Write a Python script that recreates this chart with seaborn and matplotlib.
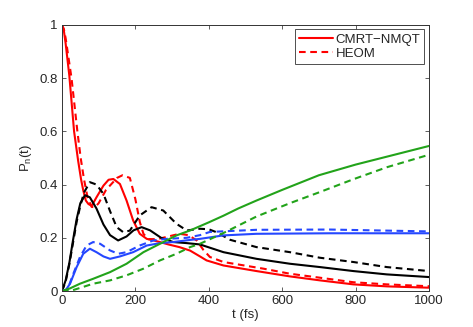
import matplotlib
matplotlib.use("Agg")
import matplotlib.pyplot as plt
import seaborn as sns
import pandas as pd

# values (t in fs, population)
red_t = [0, 5, 10, 20, 33, 44, 52, 58, 65, 72, 81, 94, 113, 127, 140, 158, 176, 194, 212, 231,
         250, 267, 290, 320, 349, 376, 394, 440, 530, 621, 703, 794, 885, 1000]
red_cmrt = [1.0, 0.98, 0.93, 0.81, 0.6, 0.49, 0.42, 0.378, 0.34, 0.327, 0.32, 0.352, 0.396, 0.418,
            0.421, 0.402, 0.34, 0.265, 0.215, 0.196, 0.19, 0.184, 0.175, 0.165, 0.152, 0.13, 0.115,
            0.096, 0.075, 0.055, 0.04, 0.025, 0.0175, 0.0125]

red_t2 = [0, 5, 10, 26, 42, 51, 60, 70, 81, 90, 100, 120, 150, 165, 185, 200, 212, 222, 235, 260,
          290, 320, 345, 367, 385, 403, 440, 549, 621, 703, 794, 885, 1000]
red_heom = [1.0, 0.985, 0.95, 0.8, 0.6, 0.5, 0.42, 0.35, 0.316, 0.315, 0.33, 0.38, 0.425, 0.435,
            0.425, 0.345, 0.26, 0.215, 0.195, 0.195, 0.205, 0.215, 0.21, 0.19, 0.155, 0.128, 0.109,
            0.084, 0.065, 0.05, 0.033, 0.025, 0.018]

blk_t = [0, 10, 20, 30, 40, 50, 63, 76, 94, 113, 131, 153, 176, 195, 217, 240, 270, 303, 340, 376,
         440, 530, 621, 703, 794, 885, 1000]
blk_cmrt = [0, 0.04, 0.105, 0.19, 0.27, 0.33, 0.36, 0.352, 0.31, 0.25, 0.21, 0.19, 0.205, 0.228,
            0.24, 0.228, 0.2, 0.184, 0.18, 0.175, 0.146, 0.121, 0.1025, 0.09, 0.075, 0.0625, 0.0525]

blk_t2 = [0, 10, 20, 30, 40, 50, 60, 76, 94, 113, 131, 149, 167, 185, 212, 244, 276, 312, 340, 376,
          400, 421, 458, 530, 621, 703, 794, 885, 1000]
blk_heom = [0, 0.035, 0.1, 0.18, 0.26, 0.32, 0.37, 0.409, 0.4, 0.365, 0.3, 0.24, 0.221, 0.227,
            0.284, 0.315, 0.3025, 0.2525, 0.2275, 0.234, 0.232, 0.221, 0.1925, 0.165, 0.146, 0.125,
            0.109, 0.09, 0.075]

blu_t = [0, 10, 22, 40, 58, 76, 94, 113, 131, 158, 194, 231, 267, 303, 349, 376, 440, 530, 730, 1000]
blu_cmrt = [0, 0.003, 0.0275, 0.09, 0.14, 0.159, 0.146, 0.13, 0.121, 0.13, 0.146, 0.171, 0.18,
            0.184, 0.192, 0.196, 0.209, 0.215, 0.217, 0.217]

blu_t2 = [0, 15, 31, 49, 67, 85, 104, 131, 153, 176, 212, 249, 285, 340, 376, 403, 530, 730, 1000]
blu_heom = [0, 0.005, 0.065, 0.1275, 0.171, 0.184, 0.1775, 0.1525, 0.14, 0.146, 0.171, 0.19, 0.196,
            0.2, 0.21, 0.222, 0.23, 0.231, 0.224]

grn_t = [0, 22, 49, 85, 131, 176, 222, 267, 312, 349, 400, 440, 480, 530, 600, 700, 800, 900, 1000]
grn_cmrt = [0, 0.01, 0.0275, 0.046, 0.071, 0.1025, 0.146, 0.1775, 0.209, 0.2275, 0.258, 0.283, 0.31,
            0.34, 0.38, 0.435, 0.475, 0.51, 0.545]

grn_t2 = [0, 22, 50, 85, 131, 176, 222, 267, 312, 349, 376, 440, 530, 621, 703, 794, 885, 1000]
grn_heom = [0, 0.0, 0.012, 0.0275, 0.04, 0.059, 0.084, 0.115, 0.14, 0.165, 0.1775, 0.218, 0.28,
            0.33, 0.372, 0.42, 0.465, 0.512]

x_ticks = [0, 200, 400, 600, 800, 1000]
y_ticks = [0, 0.2, 0.4, 0.6, 0.8, 1]
y_labels = ["0", "0.2", "0.4", "0.6", "0.8", "1"]

sns.set_style("ticks")
plt.rcParams['font.family'] = ['Liberation Sans', 'DejaVu Sans']
plt.rcParams['mathtext.fontset'] = 'custom'
plt.rcParams['mathtext.rm'] = 'Liberation Sans'
plt.rcParams['mathtext.it'] = 'Liberation Sans'

fig = plt.figure(figsize=(4.73, 3.27), dpi=100)
ax = fig.add_axes([0.131, 0.110, 0.776, 0.814])

red = "#ff0000"
blue = "#2547ff"
green = "#22a31a"
dash = (0, (3.2, 2.2))

series = [
    (red_t, red_cmrt, red, "-", "CMRT\u2212NMQT"),
    (red_t2, red_heom, red, dash, "HEOM"),
    (blk_t, blk_cmrt, "black", "-", None),
    (blk_t2, blk_heom, "black", dash, None),
    (blu_t, blu_cmrt, blue, "-", None),
    (blu_t2, blu_heom, blue, dash, None),
    (grn_t, grn_cmrt, green, "-", None),
    (grn_t2, grn_heom, green, dash, None),
]

for t, p, c, ls, lab in series:
    d = pd.DataFrame({"t": t, "p": p})
    sns.lineplot(data=d, x="t", y="p", color=c, linestyle=ls, linewidth=1.5, ax=ax, label=lab)

ax.set_xlim(0, 1000)
ax.set_ylim(0, 1)
ax.set_xticks(x_ticks)
ax.set_yticks(y_ticks)
ax.set_yticklabels(y_labels)
ax.tick_params(direction="in", length=3, width=0.6, labelsize=9.5, top=True, right=True,
               color="#444444", pad=3)
for s in ax.spines.values():
    s.set_linewidth(0.7)
    s.set_color("#333333")
ax.set_xlabel("t (fs)", fontsize=9.5, labelpad=1)
ax.set_ylabel("P$_\\mathregular{n}$(t)", fontsize=9.5, labelpad=4)

leg = ax.legend(loc="upper right", fontsize=9.5, frameon=True, fancybox=False, handlelength=2.6,
                handletextpad=0.2, borderpad=0.3, labelspacing=0.15, borderaxespad=0.35)
leg.get_frame().set_edgecolor("#222222")
leg.get_frame().set_linewidth(0.7)

fig.savefig("out.png", dpi=100)
